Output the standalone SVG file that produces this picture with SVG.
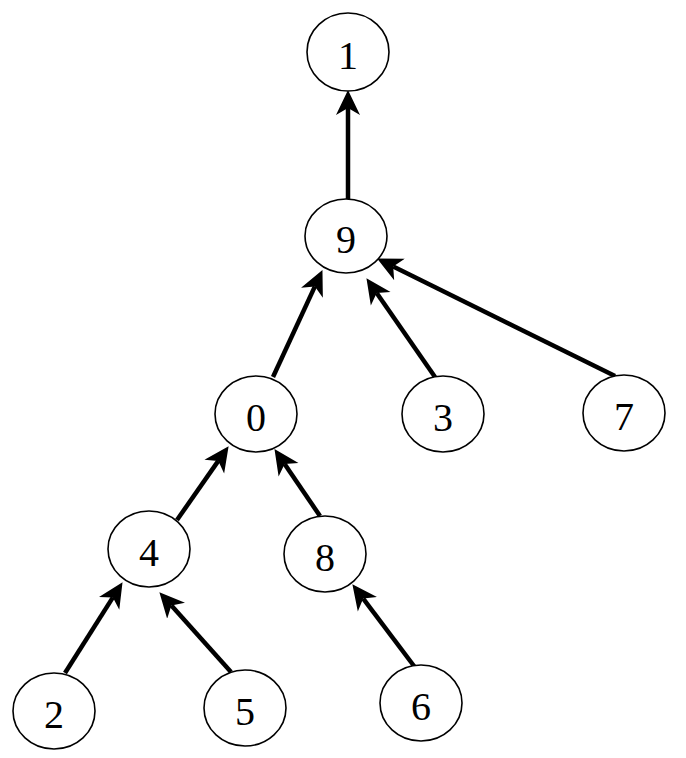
<svg xmlns="http://www.w3.org/2000/svg" width="686" height="758" viewBox="0 0 686 758">
<style>
.node ellipse{fill:#fff;stroke:#000;stroke-width:1.6}
.node text{font-family:"Liberation Serif","Times New Roman",serif;font-size:40px;text-anchor:middle;fill:#000}
.edge{stroke:#000;stroke-width:4.5;fill:none;marker-end:url(#ah)}
</style>
<defs>
<marker id="ah" markerUnits="userSpaceOnUse" markerWidth="26" markerHeight="26" viewBox="0 0 26 26" refX="7" refY="13" orient="auto">
<path d="M25,13 L0,1 L7,13 L0,25 Z" fill="#000"/>
</marker>
</defs>
<rect width="686" height="758" fill="#fff"/>
<g id="edges">
<line class="edge" x1="348" y1="199" x2="348" y2="108"/>
<line class="edge" x1="273" y1="377" x2="314.9" y2="286.4"/>
<line class="edge" x1="435" y1="377" x2="376.7" y2="293"/>
<line class="edge" x1="615" y1="376" x2="393.2" y2="266.5"/>
<line class="edge" x1="177" y1="520" x2="218.3" y2="460.9"/>
<line class="edge" x1="320" y1="516" x2="284.6" y2="464"/>
<line class="edge" x1="65" y1="673" x2="112.9" y2="597.4"/>
<line class="edge" x1="231" y1="672" x2="171.4" y2="605.6"/>
<line class="edge" x1="417" y1="670" x2="363.2" y2="598.6"/>
</g>
<g id="n1" class="node"><ellipse cx="348" cy="52" rx="41" ry="39"/><text x="348" y="69">1</text></g>
<g id="n9" class="node"><ellipse cx="346" cy="236" rx="41" ry="37"/><text x="346" y="253">9</text></g>
<g id="n0" class="node"><ellipse cx="256" cy="414" rx="41" ry="38"/><text x="256" y="431">0</text></g>
<g id="n3" class="node"><ellipse cx="443" cy="414" rx="41" ry="38"/><text x="443" y="431">3</text></g>
<g id="n7" class="node"><ellipse cx="624" cy="413" rx="41" ry="38"/><text x="624" y="430">7</text></g>
<g id="n4" class="node"><ellipse cx="149" cy="549" rx="41" ry="38"/><text x="149" y="566">4</text></g>
<g id="n8" class="node"><ellipse cx="325" cy="554" rx="41" ry="38"/><text x="325" y="571">8</text></g>
<g id="n2" class="node"><ellipse cx="54" cy="711" rx="41" ry="38"/><text x="54" y="728">2</text></g>
<g id="n5" class="node"><ellipse cx="245" cy="708" rx="41" ry="38"/><text x="245" y="725">5</text></g>
<g id="n6" class="node"><ellipse cx="421" cy="703" rx="41" ry="38"/><text x="421" y="720">6</text></g>
</svg>
